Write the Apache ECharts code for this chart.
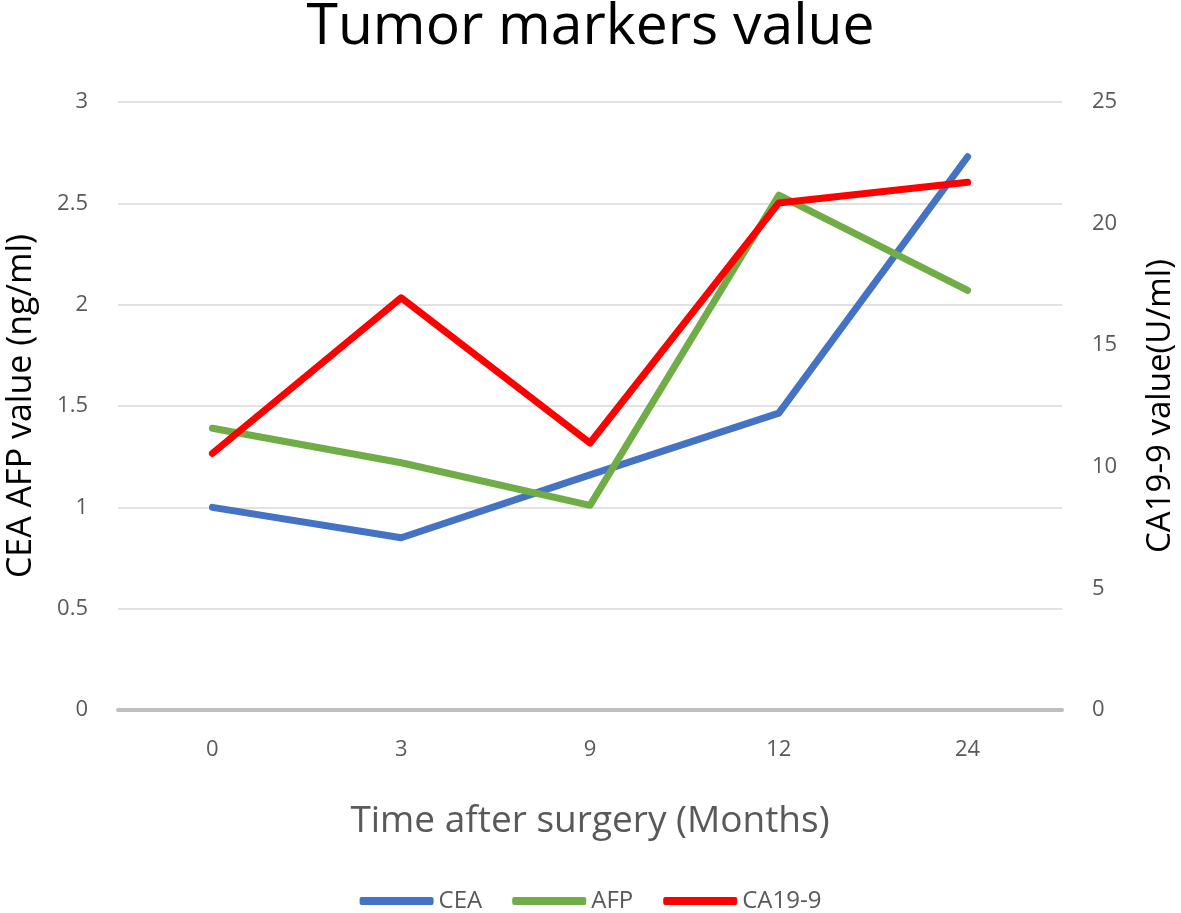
<!DOCTYPE html>
<html>
<head>
<meta charset="utf-8">
<script src="https://cdn.jsdelivr.net/npm/echarts@6/dist/echarts.min.js"></script>
<style>
  html, body { margin: 0; padding: 0; background: #fff; }
  #chart { width: 1181px; height: 913px; }
</style>
</head>
<body>
<div id="chart"></div>
<script>
const months = ["0", "3", "9", "12", "24"];
const ceaValues = [1.0, 0.85, 1.16, 1.465, 2.73];
const afpValues = [1.39, 1.22, 1.01, 2.54, 2.07];
const ca199Values = [10.55, 16.95, 10.98, 20.85, 21.7];
const leftTicks = [0, 0.5, 1, 1.5, 2, 2.5, 3];
const rightTicks = [0, 5, 10, 15, 20, 25];

document.addEventListener("DOMContentLoaded", function () {
  const chart = echarts.init(document.getElementById("chart"));
  const font = "'Open Sans', 'Noto Sans', sans-serif";
  const tickColor = "#595959";

  const option = {
    animation: false,
    backgroundColor: "#fff",
    title: {
      text: "Tumor markers value",
      left: "center",
      top: -6,
      textStyle: {
        fontFamily: font,
        fontSize: 57,
        fontWeight: "normal",
        color: "#000",
      },
    },
    legend: {
      data: ["CEA", "AFP", "CA19-9"],
      bottom: 0,
      padding: 0,
      left: "center",
      icon: "roundRect",
      itemWidth: 74,
      itemHeight: 8,
      itemGap: 30,
      textStyle: { fontFamily: font, fontSize: 24, color: tickColor },
    },
    grid: {
      left: 118,
      right: 119,
      top: 102,
      bottom: 203,
      outerBoundsMode: "none",
    },
    xAxis: {
      type: "category",
      data: months,
      boundaryGap: true,
      name: "Time after surgery (Months)",
      nameLocation: "middle",
      nameGap: 93,
      nameTextStyle: { fontFamily: font, fontSize: 37, color: tickColor },
      axisLine: { lineStyle: { color: "#bfbfbf", width: 4 } },
      axisTick: { show: false },
      axisLabel: { fontFamily: font, fontSize: 22, color: tickColor, margin: 29 },
    },
    yAxis: [
      {
        type: "value",
        min: leftTicks[0],
        max: leftTicks[leftTicks.length - 1],
        interval: 0.5,
        name: "CEA AFP value (ng/ml)",
        nameLocation: "middle",
        nameGap: 80,
        nameTextStyle: { fontFamily: font, fontSize: 34, color: "#000" },
        axisLine: { show: false },
        axisTick: { show: false },
        axisLabel: { fontFamily: font, fontSize: 22, color: tickColor, margin: 30 },
        splitLine: { lineStyle: { color: "#d9d9d9", width: 1.5 } },
      },
      {
        type: "value",
        min: rightTicks[0],
        max: rightTicks[rightTicks.length - 1],
        interval: 5,
        name: "CA19-9 value(U/ml)",
        nameLocation: "middle",
        nameGap: 82,
        nameRotate: 90,
        nameTextStyle: { fontFamily: font, fontSize: 33, color: "#000" },
        axisLine: { show: false },
        axisTick: { show: false },
        axisLabel: { fontFamily: font, fontSize: 22, color: tickColor, margin: 30 },
        splitLine: { show: false },
      },
    ],
    series: [
      {
        name: "CEA",
        type: "line",
        yAxisIndex: 0,
        data: ceaValues,
        symbol: "none",
        lineStyle: { width: 7, color: "#4472c4", cap: "round", join: "round" },
        itemStyle: { color: "#4472c4" },
      },
      {
        name: "AFP",
        type: "line",
        yAxisIndex: 0,
        data: afpValues,
        symbol: "none",
        lineStyle: { width: 7, color: "#70ad47", cap: "round", join: "round" },
        itemStyle: { color: "#70ad47" },
      },
      {
        name: "CA19-9",
        type: "line",
        yAxisIndex: 1,
        data: ca199Values,
        symbol: "none",
        lineStyle: { width: 7, color: "#ff0000", cap: "round", join: "round" },
        itemStyle: { color: "#ff0000" },
      },
    ],
  };
  chart.setOption(option);
});
</script>
</body>
</html>
